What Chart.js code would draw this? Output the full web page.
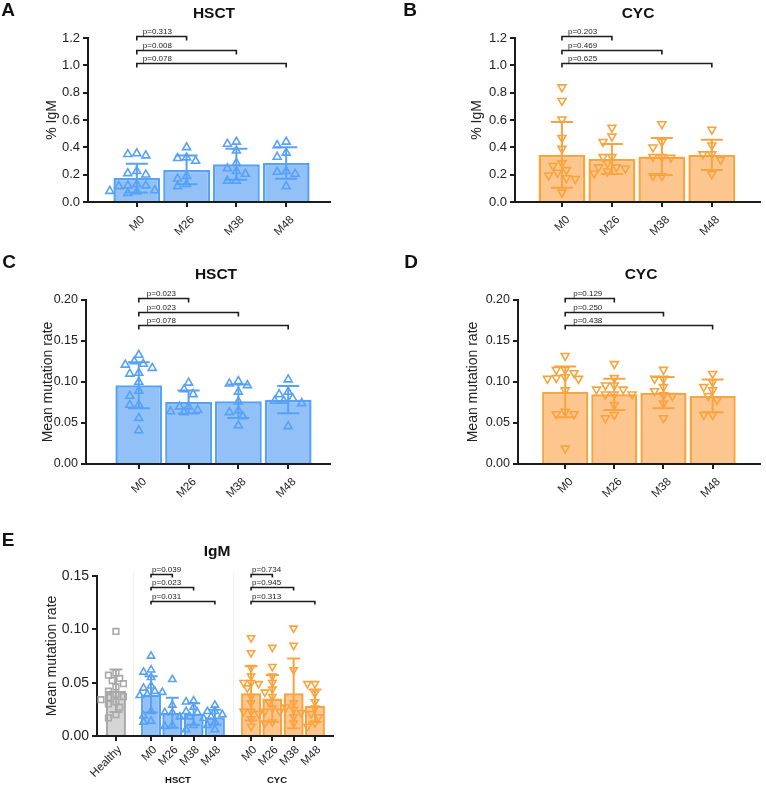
<!DOCTYPE html>
<html>
<head>
<meta charset="utf-8">
<script src="https://cdn.jsdelivr.net/npm/chart.js@4.4.1/dist/chart.umd.min.js"></script>
<style>
  body { margin: 0; background: #fff; font-family: "Liberation Sans", Arial, Helvetica, sans-serif; }
  #wrap { position: relative; width: 766px; height: 786px; overflow: hidden; background: #fff; }
  canvas { position: absolute; }
  .t { position: absolute; font-weight: bold; color: #111; white-space: nowrap; transform: translate(-50%, -50%); line-height: 1; }
</style>
</head>
<body>
<div id="wrap">
  <canvas id="cA" width="383" height="260" style="left:0;top:0"></canvas>
  <canvas id="cB" width="383" height="260" style="left:383px;top:0"></canvas>
  <canvas id="cC" width="383" height="270" style="left:0;top:260px"></canvas>
  <canvas id="cD" width="383" height="270" style="left:383px;top:260px"></canvas>
  <canvas id="cE" width="400" height="256" style="left:0;top:530px"></canvas>

  <div class="t" style="left:8px;top:9px;font-size:19px">A</div>
  <div class="t" style="left:410px;top:9px;font-size:19px">B</div>
  <div class="t" style="left:9px;top:261px;font-size:19px">C</div>
  <div class="t" style="left:411px;top:261px;font-size:19px">D</div>
  <div class="t" style="left:8px;top:539px;font-size:19px">E</div>

  <div class="t" style="left:214px;top:13px;font-size:15.5px">HSCT</div>
  <div class="t" style="left:638px;top:13px;font-size:15.5px">CYC</div>
  <div class="t" style="left:216px;top:274px;font-size:15.5px">HSCT</div>
  <div class="t" style="left:641px;top:274px;font-size:15.5px">CYC</div>
  <div class="t" style="left:217px;top:551px;font-size:15.5px">IgM</div>
  <div class="t" style="left:178px;top:780px;font-size:9.5px">HSCT</div>
  <div class="t" style="left:277px;top:780px;font-size:9.5px">CYC</div>
</div>

<script>
// ---- data ----
const months = ['M0', 'M26', 'M38', 'M48'];
const igmLabels = ['Healthy', 'M0', 'M26', 'M38', 'M48', 'M0', 'M26', 'M38', 'M48'];

// A: HSCT, % IgM
const hsctPctMean = [0.175, 0.235, 0.276, 0.286];
const hsctPctSd = [0.105, 0.105, 0.114, 0.115];
const hsctPctPts = [
  [0.35, 0.34, 0.355, 0.20, 0.21, 0.225, 0.12, 0.12, 0.115, 0.13, 0.08, 0.085, 0.065, 0.075],
  [0.40, 0.325, 0.32, 0.30, 0.17, 0.19, 0.13, 0.115],
  [0.44, 0.425, 0.375, 0.285, 0.245, 0.225, 0.205, 0.155, 0.155],
  [0.44, 0.415, 0.36, 0.33, 0.225, 0.22, 0.205, 0.115]
];
const hsctPctP = ['p=0.313', 'p=0.008', 'p=0.078'];

// B: CYC, % IgM
const cycPctMean = [0.345, 0.315, 0.333, 0.345];
const cycPctSd = [0.24, 0.11, 0.135, 0.11];
const cycPctPts = [
  [0.84, 0.74, 0.605, 0.47, 0.39, 0.285, 0.215, 0.265, 0.195, 0.175, 0.235, 0.17, 0.07],
  [0.545, 0.48, 0.44, 0.33, 0.33, 0.255, 0.245, 0.255, 0.225, 0.285, 0.21],
  [0.57, 0.40, 0.44, 0.33, 0.33, 0.325, 0.19, 0.19],
  [0.53, 0.415, 0.35, 0.35, 0.31, 0.205]
];
const cycPctP = ['p=0.203', 'p=0.469', 'p=0.625'];

// C: HSCT, mean mutation rate
const hsctMutMean = [0.096, 0.0755, 0.0765, 0.0785];
const hsctMutSd = [0.028, 0.014, 0.0205, 0.0165];
const hsctMutPts = [
  [0.133, 0.117, 0.122, 0.121, 0.125, 0.110, 0.111, 0.100, 0.083, 0.089, 0.072, 0.072, 0.056, 0.041],
  [0.099, 0.091, 0.085, 0.070, 0.066, 0.070, 0.064, 0.063],
  [0.098, 0.101, 0.096, 0.088, 0.076, 0.065, 0.063, 0.047, 0.058],
  [0.103, 0.085, 0.088, 0.080, 0.077, 0.077, 0.074, 0.046]
];
const hsctMutP = ['p=0.023', 'p=0.023', 'p=0.078'];

// D: CYC, mean mutation rate
const cycMutMean = [0.088, 0.085, 0.087, 0.083];
const cycMutSd = [0.031, 0.019, 0.019, 0.020];
const cycMutPts = [
  [0.132, 0.104, 0.104, 0.105, 0.106, 0.111, 0.115, 0.115, 0.090, 0.064, 0.061, 0.061, 0.019],
  [0.122, 0.105, 0.096, 0.096, 0.091, 0.085, 0.085, 0.085, 0.091, 0.072, 0.056, 0.060],
  [0.115, 0.104, 0.104, 0.084, 0.089, 0.094, 0.083, 0.074, 0.056],
  [0.110, 0.094, 0.100, 0.090, 0.083, 0.060, 0.060, 0.078]
];
const cycMutP = ['p=0.129', 'p=0.250', 'p=0.438'];

// E: IgM mean mutation rate, healthy + HSCT + CYC
const igmMean = [0.0424, 0.039, 0.0218, 0.0206, 0.0175, 0.040, 0.0352, 0.040, 0.0284];
const igmSd = [0.020, 0.017, 0.014, 0.010, 0.007, 0.0255, 0.022, 0.0327, 0.0153];
const igmPts = [
  [0.098, 0.059, 0.057, 0.054, 0.052, 0.049, 0.046, 0.042, 0.039, 0.037, 0.036, 0.034, 0.032, 0.030, 0.027, 0.020, 0.017],
  [0.075, 0.062, 0.060, 0.055, 0.047, 0.045, 0.042, 0.041, 0.039, 0.038, 0.023, 0.019, 0.014, 0.013],
  [0.053, 0.029, 0.022, 0.022, 0.018, 0.010, 0.009],
  [0.033, 0.032, 0.027, 0.023, 0.022, 0.018, 0.010, 0.006],
  [0.029, 0.023, 0.023, 0.020, 0.0165, 0.018, 0.013, 0.010, 0.006],
  [0.092, 0.078, 0.064, 0.056, 0.050, 0.050, 0.049, 0.045, 0.037, 0.031, 0.023, 0.023, 0.021, 0.016, 0.009],
  [0.083, 0.065, 0.056, 0.050, 0.041, 0.044, 0.037, 0.032, 0.026, 0.023, 0.023, 0.013, 0.012],
  [0.101, 0.085, 0.062, 0.031, 0.027, 0.025, 0.022, 0.018, 0.012],
  [0.049, 0.049, 0.040, 0.032, 0.026, 0.021, 0.018, 0.012, 0.009]
];
const igmHsctP = ['p=0.039', 'p=0.023', 'p=0.031'];
const igmCycP = ['p=0.734', 'p=0.945', 'p=0.313'];

// ---- styles ----
const FONT = '"Liberation Sans", Arial, Helvetica, sans-serif';
const INK = '#1c1c1c';
const BLUE = { line: '#57a1f6', fill: '#92c1f8', shape: 'triangle', rot: 0 };
const ORANGE = { line: '#f9a43f', fill: '#fdc68f', shape: 'triangle', rot: 180 };
const GREY = { line: '#a9a9a9', fill: '#d5d5d5', shape: 'rect', rot: 0 };

Chart.defaults.font.family = FONT;
Chart.defaults.color = '#222';

// simple beeswarm: returns pixel offsets so markers don't overlap too much
function swarm(vals, pxPerY, step) {
  const order = vals.map((v, i) => i).sort((a, b) => vals[b] - vals[a]);
  const placed = [], out = [];
  const minDist = step * 0.8;
  order.forEach(i => {
    const y = vals[i] * pxPerY;
    for (let k = 0; k < 60; k++) {
      const s = k === 0 ? 0 : (k % 2 ? -1 : 1) * Math.ceil(k / 2) * 0.5;
      const x = s * step;
      if (placed.every(p => Math.hypot(p.x - x, p.y - y) >= minDist)) {
        placed.push({ x, y });
        out[i] = x;
        break;
      }
    }
  });
  return out;
}

function makePanel(id, c) {
  const pxY = (c.bottom - c.top) / c.yMax;
  const pxX = (c.right - c.left) / (c.xMax - c.xMin);

  const datasets = [{
    type: 'bar',
    order: 2,
    data: c.means.map((m, i) => ({ x: c.xPos[i], y: m })),
    backgroundColor: c.groups.map(g => g.fill),
    borderColor: c.groups.map(g => g.line),
    borderWidth: 2.5,
    barPercentage: 0.94,
    categoryPercentage: 1
  }];

  c.points.forEach((vals, g) => {
    const off = swarm(vals, pxY, c.step);
    const st = c.groups[g];
    datasets.push({
      type: 'scatter',
      order: 0,
      clip: false,
      data: vals.map((v, i) => ({ x: c.xPos[g] + off[i] / pxX, y: v })),
      pointStyle: st.shape,
      pointRotation: st.rot,
      pointRadius: st.shape === 'rect' ? c.r * 0.95 : c.r,
      pointBorderWidth: 1.6,
      pointBorderColor: st.line,
      pointBackgroundColor: 'rgba(255,255,255,0)'
    });
  });

  const errorBars = {
    id: 'errorBars',
    afterDatasetDraw(chart, args) {
      if (args.index !== 0) return;
      const ctx = chart.ctx, ys = chart.scales.y;
      const meta = chart.getDatasetMeta(0);
      ctx.save();
      ctx.lineWidth = 2;
      meta.data.forEach((bar, i) => {
        const x = bar.x;
        const yt = ys.getPixelForValue(c.means[i] + c.sds[i]);
        const yb = ys.getPixelForValue(Math.max(c.means[i] - c.sds[i], 0));
        ctx.strokeStyle = c.groups[i].line;
        ctx.beginPath();
        ctx.moveTo(x, yt); ctx.lineTo(x, yb);
        ctx.moveTo(x - c.cap, yt); ctx.lineTo(x + c.cap, yt);
        ctx.moveTo(x - c.cap, yb); ctx.lineTo(x + c.cap, yb);
        ctx.stroke();
      });
      ctx.restore();
    }
  };

  const brackets = {
    id: 'brackets',
    afterDraw(chart) {
      const ctx = chart.ctx, xs = chart.scales.x, ys = chart.scales.y;
      ctx.save();
      (c.seps || []).forEach(v => {
        const x = Math.round(xs.getPixelForValue(v)) + 0.5;
        ctx.strokeStyle = '#f1f1f1';
        ctx.lineWidth = 1;
        ctx.beginPath();
        ctx.moveTo(x, chart.chartArea.top - 4);
        ctx.lineTo(x, chart.chartArea.bottom - 1);
        ctx.stroke();
      });
      ctx.strokeStyle = INK;
      ctx.fillStyle = '#222';
      ctx.lineWidth = 1.6;
      ctx.font = '8px ' + FONT;
      ctx.textBaseline = 'alphabetic';
      c.brackets.forEach(b => {
        const x1 = xs.getPixelForValue(c.xPos[b.from]);
        const x2 = xs.getPixelForValue(c.xPos[b.to]);
        const y = Math.round(ys.getPixelForValue(b.level)) + 0.5;
        ctx.beginPath();
        ctx.moveTo(x1, y + c.tick); ctx.lineTo(x1, y); ctx.lineTo(x2, y); ctx.lineTo(x2, y + c.tick);
        ctx.stroke();
        ctx.fillText(b.text, x1 + c.textDx, y - 2.5);
      });
      ctx.restore();
    }
  };

  const axisGrid = { offset: false, drawOnChartArea: false, drawTicks: true, tickLength: 5, color: INK, lineWidth: 2 };
  const axisBorder = { display: true, color: INK, width: 2 };

  new Chart(document.getElementById(id), {
    data: { datasets },
    plugins: [errorBars, brackets],
    options: {
      responsive: false,
      animation: false,
      events: [],
      layout: { padding: { top: c.top, right: c.w - c.right, bottom: 0, left: 0 } },
      plugins: { legend: { display: false }, tooltip: { enabled: false } },
      scales: {
        x: {
          type: 'linear',
          offset: false,
          min: c.xMin,
          max: c.xMax,
          afterBuildTicks: s => { s.ticks = c.xPos.map(v => ({ value: v })); },
          afterFit: s => { s.height = c.h - c.bottom; },
          ticks: {
            autoSkip: false, minRotation: 45, maxRotation: 45,
            padding: c.lblPad, labelOffset: c.lblDx,
            font: { size: 11.5 }, color: '#222',
            callback: (v, i) => c.labels[i]
          },
          grid: axisGrid,
          border: axisBorder
        },
        y: {
          min: 0,
          max: c.yMax,
          afterFit: s => { s.width = c.left; },
          ticks: {
            stepSize: c.yStep, padding: 3,
            font: { size: c.yFont }, color: '#222',
            callback: v => v.toFixed(c.dec)
          },
          grid: axisGrid,
          border: axisBorder,
          title: {
            display: true, text: c.yTitle, color: '#222',
            font: { size: 14 },
            padding: { top: c.yTitleX - 8.4, bottom: 0 }
          }
        }
      }
    }
  });
}

const four = [0, 1, 2, 3];
const cmp = (p, levels, from, to) => p.map((t, k) => ({ text: t, level: levels[k], from: from, to: to[k] }));

makePanel('cA', {
  w: 383, h: 260, left: 88, right: 330, top: 38, bottom: 202,
  xMin: -0.98, xMax: 3.88, xPos: four, labels: months, lblPad: 6, lblDx: 6,
  yMax: 1.2, yStep: 0.2, dec: 1, yFont: 13, yTitle: '% IgM', yTitleX: 52,
  means: hsctPctMean, sds: hsctPctSd, points: hsctPctPts,
  groups: [BLUE, BLUE, BLUE, BLUE],
  r: 4.6, step: 9, cap: 11, tick: 4, textDx: 6,
  brackets: cmp(hsctPctP, [1.214, 1.112, 1.017], 0, [1, 2, 3])
});

makePanel('cB', {
  w: 383, h: 260, left: 132, right: 379, top: 38, bottom: 202,
  xMin: -0.94, xMax: 3.96, xPos: four, labels: months, lblPad: 6, lblDx: 6,
  yMax: 1.2, yStep: 0.2, dec: 1, yFont: 13, yTitle: '% IgM', yTitleX: 94,
  means: cycPctMean, sds: cycPctSd, points: cycPctPts,
  groups: [ORANGE, ORANGE, ORANGE, ORANGE],
  r: 4.6, step: 9, cap: 11, tick: 4, textDx: 6,
  brackets: cmp(cycPctP, [1.214, 1.112, 1.017], 0, [1, 2, 3])
});

makePanel('cC', {
  w: 383, h: 270, left: 86, right: 330, top: 40, bottom: 204,
  xMin: -1.06, xMax: 3.84, xPos: four, labels: months, lblPad: 6, lblDx: 6,
  yMax: 0.2, yStep: 0.05, dec: 2, yFont: 12.5, yTitle: 'Mean mutation rate', yTitleX: 48,
  means: hsctMutMean, sds: hsctMutSd, points: hsctMutPts,
  groups: [BLUE, BLUE, BLUE, BLUE],
  r: 4.6, step: 9, cap: 11, tick: 4, textDx: 8,
  brackets: cmp(hsctMutP, [0.2024, 0.1854, 0.1695], 0, [1, 2, 3])
});

makePanel('cD', {
  w: 383, h: 270, left: 135, right: 380, top: 40, bottom: 204,
  xMin: -0.96, xMax: 3.96, xPos: four, labels: months, lblPad: 6, lblDx: 6,
  yMax: 0.2, yStep: 0.05, dec: 2, yFont: 12.5, yTitle: 'Mean mutation rate', yTitleX: 90,
  means: cycMutMean, sds: cycMutSd, points: cycMutPts,
  groups: [ORANGE, ORANGE, ORANGE, ORANGE],
  r: 4.6, step: 9, cap: 11, tick: 4, textDx: 8,
  brackets: cmp(cycMutP, [0.2024, 0.1854, 0.1695], 0, [1, 2, 3])
});

makePanel('cE', {
  w: 400, h: 256, left: 97, right: 333, top: 46, bottom: 206,
  xMin: -0.89, xMax: 10.2, xPos: [0, 1.65, 2.65, 3.65, 4.65, 6.35, 7.35, 8.35, 9.35], labels: igmLabels,
  lblPad: 2, lblDx: 4,
  yMax: 0.15, yStep: 0.05, dec: 2, yFont: 14, yTitle: 'Mean mutation rate', yTitleX: 52,
  means: igmMean, sds: igmSd, points: igmPts,
  groups: [GREY, BLUE, BLUE, BLUE, BLUE, ORANGE, ORANGE, ORANGE, ORANGE],
  r: 4.2, step: 7.5, cap: 6.5, tick: 3, textDx: 1,
  seps: [0.8, 5.5],
  brackets: cmp(igmHsctP, [0.1518, 0.1396, 0.1265], 1, [2, 3, 4])
    .concat(cmp(igmCycP, [0.1518, 0.1396, 0.1265], 5, [6, 7, 8]))
});
</script>
</body>
</html>
